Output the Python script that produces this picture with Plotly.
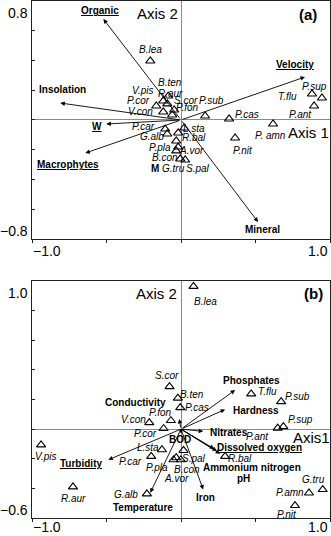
import plotly.graph_objects as go

# ---------------- Panel (a) ----------------
a_species = ["B.lea", "B.ten", "V.pis", "R.aur", "S.cor", "P.sub", "P.cor", "V.con", "P.fon",
             "P.car", "G.alb", "P.pla", "B.con", "G.tru", "S.pal", "A.vor", "R.bal", "L.sta",
             "P.cas", "P.nit", "P. amn", "P.ant", "T.flu", "P.sup"]
a_x = [-0.206, -0.086, -0.119, -0.092, -0.046, 0.162, -0.166, -0.119, -0.059,
       -0.106, -0.092, -0.032, -0.032, -0.005, 0.028, -0.019, -0.019, 0.021,
       0.323, 0.363, 0.618, 0.893, 0.879, 0.946]
a_y = [0.397, 0.161, 0.128, 0.108, 0.067, 0.027, 0.094, 0.054, 0.034,
       -0.061, -0.094, -0.141, -0.208, -0.262, -0.269, -0.182, -0.087, -0.054,
       0.007, -0.121, -0.027, 0.094, 0.175, 0.148]
a_lab_x = [-0.206, -0.072, -0.253, -0.072, 0.035, 0.202, -0.287, -0.273, 0.042,
           -0.253, -0.193, -0.139, -0.106, -0.052, 0.115, 0.068, 0.088, 0.085,
           0.444, 0.417, 0.598, 0.799, 0.718, 0.899]
a_lab_y = [0.471, 0.249, 0.195, 0.175, 0.128, 0.128, 0.128, 0.054, 0.081,
           -0.047, -0.114, -0.188, -0.255, -0.323, -0.323, -0.208, -0.121, -0.058,
           0.034, -0.208, -0.101, 0.034, 0.155, 0.222]

a_vars = ["Organic", "Velocity", "Insolation", "W", "Macrophytes", "Mineral"]
a_vx = [-0.521, 0.832, -0.810, -0.501, -0.642, 0.517]
a_vy = [0.679, 0.289, 0.114, -0.027, -0.222, -0.686]
a_var_lx = [-0.541, 0.765, -0.796, -0.562, -0.756, 0.544]
a_var_ly = [0.739, 0.376, 0.202, -0.047, -0.296, -0.733]
a_var_ul = [True, True, False, True, True, False]

# ---------------- Panel (b) ----------------
b_species = ["B.lea", "S.cor", "B.ten", "P.cas", "T.flu", "P.sub", "P.sup", "P.ant", "V.con",
             "P.fon", "P.cor", "L.sta", "P.car", "P.pla", "S.pal", "B.con", "A.vor", "R.bal",
             "G.alb", "V.pis", "R.aur", "G.tru", "P.amn", "P.nit"]
b_x = [0.084, -0.077, -0.021, -0.005, 0.471, 0.672, 0.687, 0.649, -0.213,
       -0.068, -0.117, -0.128, -0.200, -0.050, -0.001, 0.017, -0.032, 0.296,
       -0.229, -0.939, -0.725, 0.951, 0.859, 0.765]
b_y = [0.964, 0.287, 0.209, 0.145, 0.238, 0.186, 0.017, 0.007, 0.044,
       0.058, 0.004, -0.139, -0.184, -0.207, -0.207, -0.144, -0.193, -0.184,
       -0.437, -0.106, -0.390, -0.408, -0.431, -0.516]
b_lab_x = [0.162, -0.092, 0.075, 0.109, 0.578, 0.779, 0.799, 0.511, -0.320,
           -0.139, -0.240, -0.220, -0.336, -0.162, 0.084, 0.040, -0.027, 0.397,
           -0.367, -0.905, -0.721, 0.888, 0.732, 0.710]
b_lab_y = [0.863, 0.359, 0.231, 0.143, 0.251, 0.217, 0.063, -0.052, 0.063,
           0.110, -0.032, -0.126, -0.218, -0.256, -0.195, -0.274, -0.330, -0.195,
           -0.442, -0.184, -0.471, -0.341, -0.431, -0.577]

b_vars = ["Phosphates", "Hardness", "Nitrates", "Dissolved oxygen", "Ammonium nitrogen", "pH",
          "Iron", "Temperature", "Turbidity", "Conductivity", "BOD"]
b_vx = [0.363, 0.296, 0.149, 0.263, 0.223, 0.241, 0.149, -0.206, -0.488, -0.012, 0.0]
b_vy = [0.264, 0.133, -0.015, -0.166, -0.133, -0.148, -0.408, -0.429, -0.207, 0.069, -0.03]
b_var_lx = [0.474, 0.504, 0.323, 0.524, 0.475, 0.419, 0.162, -0.257, -0.669, -0.307, -0.005]
b_var_ly = [0.325, 0.125, -0.023, -0.121, -0.256, -0.330, -0.464, -0.528, -0.234, 0.179, -0.067]
b_var_ul = [False, False, False, True, False, False, False, False, True, False, False]

FONT = "Arial, Liberation Sans, sans-serif"

fig = go.Figure()
fig.add_trace(go.Scatter(x=a_x, y=a_y, mode="markers", xaxis="x", yaxis="y",
                         marker=dict(symbol="triangle-up-open", size=8, color="black",
                                     line=dict(width=1.1, color="black")),
                         showlegend=False, hoverinfo="skip"))
fig.add_trace(go.Scatter(x=b_x, y=b_y, mode="markers", xaxis="x2", yaxis="y2",
                         marker=dict(symbol="triangle-up-open", size=8, color="black",
                                     line=dict(width=1.1, color="black")),
                         showlegend=False, hoverinfo="skip"))

ann = []


def add_panel(xr, yr, species, lx, ly, vars_, vx, vy, vlx, vly, vul):
    for s, x, y in zip(species, lx, ly):
        ann.append(dict(x=x, y=y, xref=xr, yref=yr, text="<i>%s</i>" % s, showarrow=False,
                        font=dict(family=FONT, size=10, color="black")))
    for v, x, y in zip(vars_, vx, vy):
        ann.append(dict(x=x, y=y, ax=0, ay=0, xref=xr, yref=yr, axref=xr, ayref=yr,
                        text="", showarrow=True, arrowhead=2, arrowsize=1, arrowwidth=0.9,
                        arrowcolor="black"))
    for v, x, y, u in zip(vars_, vlx, vly, vul):
        t = "<b>%s</b>" % v
        if u:
            t = "<u>%s</u>" % t
        ann.append(dict(x=x, y=y, xref=xr, yref=yr, text=t, showarrow=False,
                        font=dict(family=FONT, size=10, color="black")))


add_panel("x", "y", a_species, a_lab_x, a_lab_y, a_vars, a_vx, a_vy, a_var_lx, a_var_ly, a_var_ul)
add_panel("x2", "y2", b_species, b_lab_x, b_lab_y, b_vars, b_vx, b_vy, b_var_lx, b_var_ly, b_var_ul)

# Stray "M" label in panel (a)
ann.append(dict(x=-0.175, y=-0.325, xref="x", yref="y", text="<b>M</b>", showarrow=False,
                font=dict(family=FONT, size=10, color="black")))

# Axis titles inside panels
for xr, yr, x, y, t in [("x", "y", -0.16, 0.719, "Axis 2"), ("x", "y", 0.853, -0.081, "Axis 1"),
                        ("x2", "y2", -0.166, 0.917, "Axis 2"), ("x2", "y2", 0.873, -0.059, "Axis1")]:
    ann.append(dict(x=x, y=y, xref=xr, yref=yr, text=t, showarrow=False,
                    font=dict(family=FONT, size=15, color="black")))
for xr, yr, x, y, t in [("x", "y", 0.853, 0.706, "(a)"), ("x2", "y2", 0.886, 0.917, "(b)")]:
    ann.append(dict(x=x, y=y, xref=xr, yref=yr, text="<b>%s</b>" % t, showarrow=False,
                    font=dict(family=FONT, size=15, color="black")))

# Tick labels (placed at axis ends as in the original)
a_ytop, a_ybot = "0.8", "−0.8"
b_ytop, b_ybot = "1.0", "−0.6"
x_left, x_right = "−1.0", "1.0"
TF = dict(family=FONT, size=14, color="black")
for xa, ya, top, bot, xs in [("x", "y", a_ytop, a_ybot, -3), ("x2", "y2", b_ytop, b_ybot, 0)]:
    ann.append(dict(x=0, y=1, xref=xa + " domain", yref=ya + " domain", text=top,
                    xanchor="right", yanchor="top", xshift=-3, yshift=-3, showarrow=False,
                    font=TF, borderpad=0))
    ann.append(dict(x=0, y=0, xref=xa + " domain", yref=ya + " domain", text=bot,
                    xanchor="right", yanchor="bottom", xshift=-3, yshift=-1, showarrow=False,
                    font=TF, borderpad=0))
    ann.append(dict(x=0, y=0, xref=xa + " domain", yref=ya + " domain", text=x_left,
                    xanchor="left", yanchor="top", xshift=0, yshift=xs, showarrow=False,
                    font=TF, borderpad=0))
    ann.append(dict(x=1, y=0, xref=xa + " domain", yref=ya + " domain", text=x_right,
                    xanchor="right", yanchor="top", xshift=-1, yshift=xs, showarrow=False,
                    font=TF, borderpad=0))

axis_common = dict(showgrid=False, zeroline=True, zerolinecolor="#8a8a8a", zerolinewidth=1,
                   showline=True, linecolor="#222222", linewidth=1, mirror=True,
                   showticklabels=False, ticklen=3, tickcolor="#222222")

fig.update_layout(
    width=331, height=536,
    margin=dict(l=32, r=1, t=1, b=18),
    paper_bgcolor="white", plot_bgcolor="white",
    showlegend=False,
    annotations=ann,
    xaxis=dict(domain=[0, 1], range=[-1, 1], tick0=-1, dtick=0.5, ticks="outside",
               anchor="y", **axis_common),
    yaxis=dict(domain=[0.5397, 1], range=[-0.8, 0.8], tick0=-0.8, dtick=0.2, ticks="inside",
               anchor="x", **axis_common),
    xaxis2=dict(domain=[0, 1], range=[-1, 1], tick0=-1, dtick=0.5, ticks="outside",
                anchor="y2", **axis_common),
    yaxis2=dict(domain=[0, 0.4584], range=[-0.6, 1.0], tick0=-0.6, dtick=0.2, ticks="inside",
                anchor="x2", **axis_common),
)

fig.write_html("out.html", config={"displayModeBar": False},
               post_script="document.body.style.margin='0';document.body.style.overflow='hidden';")
